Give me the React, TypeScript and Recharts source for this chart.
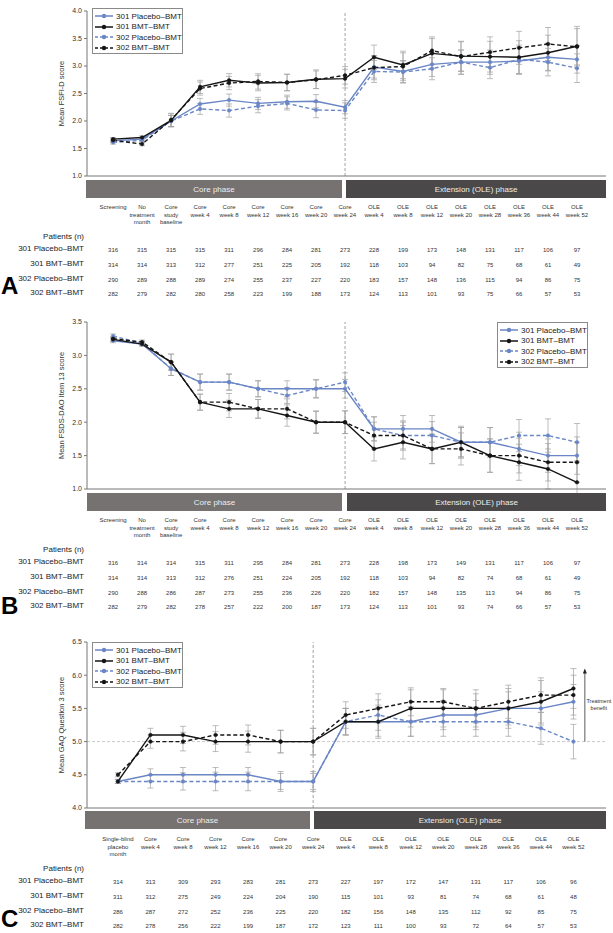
import React from 'react';
import { LineChart, Line, XAxis, YAxis, ErrorBar, ReferenceLine } from 'recharts';

const FONT = '"Liberation Sans", Arial, Helvetica, sans-serif';
const BLUE = '#6a86c6';
const BLACK = '#151515';
const AXIS = '#777';

const seriesNames = ['301 Placebo–BMT', '301 BMT–BMT', '302 Placebo–BMT', '302 BMT–BMT'];

// visit labels
const visitsAB = [
  'Screening', 'No\ntreatment\nmonth', 'Core\nstudy\nbaseline', 'Core\nweek 4', 'Core\nweek 8',
  'Core\nweek 12', 'Core\nweek 16', 'Core\nweek 20', 'Core\nweek 24', 'OLE\nweek 4', 'OLE\nweek 8',
  'OLE\nweek 12', 'OLE\nweek 20', 'OLE\nweek 28', 'OLE\nweek 36', 'OLE\nweek 44', 'OLE\nweek 52',
];
const visitsC = [
  'Single-blind\nplacebo\nmonth', 'Core\nweek 4', 'Core\nweek 8', 'Core\nweek 12', 'Core\nweek 16',
  'Core\nweek 20', 'Core\nweek 24', 'OLE\nweek 4', 'OLE\nweek 8', 'OLE\nweek 12', 'OLE\nweek 20',
  'OLE\nweek 28', 'OLE\nweek 36', 'OLE\nweek 44', 'OLE\nweek 52',
];

// A: FSFI-D means and error bars
const fsfiP301 = [1.64, 1.67, 2.0, 2.31, 2.38, 2.32, 2.35, 2.36, 2.25, 2.98, 2.9, 3.03, 3.07, 3.07, 3.09, 3.16, 3.12];
const fsfiB301 = [1.67, 1.7, 2.01, 2.62, 2.74, 2.69, 2.7, 2.76, 2.77, 3.16, 3.02, 3.23, 3.18, 3.17, 3.16, 3.24, 3.36];
const fsfiP302 = [1.61, 1.65, 2.0, 2.22, 2.19, 2.27, 2.32, 2.2, 2.19, 2.9, 2.89, 2.95, 3.07, 2.97, 3.12, 3.07, 2.96];
const fsfiB302 = [1.65, 1.58, 2.02, 2.59, 2.69, 2.72, 2.7, 2.75, 2.83, 2.97, 2.99, 3.28, 3.17, 3.25, 3.33, 3.4, 3.35];
const fsfiErrP301 = [0.03, 0.03, 0.1, 0.1, 0.11, 0.11, 0.12, 0.12, 0.12, 0.2, 0.2, 0.22, 0.22, 0.22, 0.24, 0.25, 0.25];
const fsfiErrB301 = [0.03, 0.03, 0.12, 0.12, 0.12, 0.14, 0.15, 0.17, 0.17, 0.22, 0.25, 0.27, 0.27, 0.28, 0.3, 0.32, 0.36];
const fsfiErrP302 = [0.03, 0.03, 0.1, 0.1, 0.12, 0.12, 0.12, 0.14, 0.14, 0.2, 0.2, 0.2, 0.22, 0.2, 0.26, 0.25, 0.26];
const fsfiErrB302 = [0.03, 0.03, 0.12, 0.12, 0.12, 0.14, 0.15, 0.16, 0.16, 0.22, 0.25, 0.25, 0.27, 0.28, 0.3, 0.3, 0.33];
const fsfiN = [
  [316, 315, 315, 315, 311, 296, 284, 281, 273, 228, 199, 173, 148, 131, 117, 106, 97],
  [314, 314, 313, 312, 277, 251, 225, 205, 192, 118, 103, 94, 82, 75, 68, 61, 49],
  [290, 289, 288, 289, 274, 255, 237, 227, 220, 183, 157, 148, 136, 115, 94, 86, 75],
  [282, 279, 282, 280, 258, 223, 199, 188, 173, 124, 113, 101, 93, 75, 66, 57, 53],
];

// B: FSDS-DAO item 13
const fsdsP301 = [3.22, 3.17, 2.8, 2.6, 2.6, 2.5, 2.5, 2.5, 2.5, 1.9, 1.9, 1.9, 1.7, 1.7, 1.6, 1.5, 1.5];
const fsdsB301 = [3.24, 3.17, 2.9, 2.3, 2.2, 2.2, 2.1, 2.0, 2.0, 1.6, 1.7, 1.6, 1.7, 1.5, 1.4, 1.3, 1.1];
const fsdsP302 = [3.29, 3.18, 2.8, 2.6, 2.6, 2.5, 2.4, 2.5, 2.6, 1.9, 1.8, 1.8, 1.7, 1.7, 1.8, 1.8, 1.7];
const fsdsB302 = [3.25, 3.2, 2.9, 2.3, 2.3, 2.2, 2.2, 2.0, 2.0, 1.8, 1.8, 1.6, 1.6, 1.5, 1.5, 1.4, 1.4];
const fsdsErrP301 = [0.03, 0.03, 0.1, 0.12, 0.12, 0.12, 0.12, 0.14, 0.14, 0.18, 0.2, 0.2, 0.22, 0.22, 0.25, 0.25, 0.28];
const fsdsErrB301 = [0.03, 0.03, 0.12, 0.12, 0.13, 0.14, 0.16, 0.17, 0.17, 0.18, 0.25, 0.22, 0.24, 0.25, 0.27, 0.3, 0.3];
const fsdsErrP302 = [0.03, 0.03, 0.1, 0.12, 0.12, 0.12, 0.12, 0.13, 0.14, 0.18, 0.2, 0.21, 0.22, 0.22, 0.24, 0.25, 0.28];
const fsdsErrB302 = [0.03, 0.03, 0.12, 0.12, 0.13, 0.14, 0.15, 0.16, 0.17, 0.2, 0.22, 0.22, 0.24, 0.25, 0.26, 0.28, 0.3];
const fsdsN = [
  [316, 314, 314, 315, 311, 295, 284, 281, 273, 228, 198, 173, 149, 131, 117, 106, 97],
  [314, 314, 313, 312, 276, 251, 224, 205, 192, 118, 103, 94, 82, 74, 68, 61, 49],
  [290, 288, 286, 287, 273, 255, 236, 226, 220, 182, 157, 148, 135, 113, 94, 86, 75],
  [282, 279, 282, 278, 257, 222, 200, 187, 173, 124, 113, 101, 93, 74, 66, 57, 53],
];

// C: GAQ question 3
const gaqP301 = [4.4, 4.5, 4.5, 4.5, 4.5, 4.4, 4.4, 5.3, 5.3, 5.3, 5.4, 5.4, 5.5, 5.5, 5.6];
const gaqB301 = [4.4, 5.1, 5.1, 5.0, 5.0, 5.0, 5.0, 5.3, 5.3, 5.5, 5.5, 5.5, 5.5, 5.6, 5.8];
const gaqP302 = [4.4, 4.4, 4.4, 4.4, 4.4, 4.4, 4.4, 5.3, 5.4, 5.3, 5.3, 5.3, 5.3, 5.2, 5.0];
const gaqB302 = [4.5, 5.0, 5.0, 5.1, 5.1, 5.0, 5.0, 5.4, 5.5, 5.6, 5.6, 5.5, 5.6, 5.7, 5.7];
const gaqErrP301 = [0.03, 0.09, 0.11, 0.11, 0.11, 0.12, 0.12, 0.2, 0.22, 0.22, 0.22, 0.22, 0.25, 0.25, 0.26];
const gaqErrB301 = [0.03, 0.1, 0.13, 0.15, 0.16, 0.17, 0.2, 0.2, 0.25, 0.28, 0.28, 0.28, 0.3, 0.32, 0.3];
const gaqErrP302 = [0.03, 0.1, 0.13, 0.14, 0.14, 0.15, 0.15, 0.2, 0.23, 0.22, 0.22, 0.22, 0.22, 0.24, 0.26];
const gaqErrB302 = [0.03, 0.1, 0.14, 0.14, 0.15, 0.17, 0.2, 0.2, 0.22, 0.21, 0.2, 0.22, 0.25, 0.26, 0.3];
const gaqN = [
  [314, 313, 309, 293, 283, 281, 273, 227, 197, 172, 147, 131, 117, 106, 96],
  [311, 312, 275, 249, 224, 204, 190, 115, 101, 93, 81, 74, 68, 61, 48],
  [286, 287, 272, 252, 236, 225, 220, 182, 156, 148, 135, 112, 92, 85, 75],
  [282, 278, 256, 222, 199, 187, 172, 123, 111, 100, 93, 72, 64, 57, 53],
];

const keys = ['p301', 'b301', 'p302', 'b302'];
const styles = [
  { color: BLUE, dash: undefined },
  { color: BLACK, dash: undefined },
  { color: BLUE, dash: '4 2.5' },
  { color: BLACK, dash: '4 2.5' },
];
const drawOrder = [2, 0, 3, 1];

function buildRows(means: number[][], errs: number[][]) {
  return means[0].map((_, i) => {
    const row: any = { i };
    keys.forEach((k, s) => {
      row[k] = means[s][i];
      row['e_' + k] = errs[s][i];
    });
    return row;
  });
}

const TableTick = (props: any) => {
  const { x, y, payload, labels, counts } = props;
  const i = Math.round(payload.value);
  const lines = labels[i].split('\n');
  return (
    <g fontFamily={FONT}>
      {lines.map((l: string, k: number) => (
        <text key={k} x={x} y={y + 33 + k * 7.5} textAnchor="middle" fontSize={6} fill="#333">{l}</text>
      ))}
      {counts.map((row: number[], r: number) => (
        <text key={'n' + r} x={x} y={y + 76 + r * 14.8} textAnchor="middle" fontSize={6} fill="#333">{row[i]}</text>
      ))}
    </g>
  );
};

function Legend({ left, top }: { left: number; top: number }) {
  return (
    <div style={{ position: 'absolute', left, top, width: 91, height: 46, border: '1px solid #8a8a8a', background: '#fff', boxSizing: 'border-box', padding: '2px 0 0 2px' }}>
      {seriesNames.map((n, s) => (
        <div key={n} style={{ display: 'flex', alignItems: 'center', height: 10.5, fontSize: 8, color: '#222', whiteSpace: 'nowrap' }}>
          <svg width={18} height={8} style={{ marginRight: 3 }}>
            <line x1={0} y1={4} x2={18} y2={4} stroke={styles[s].color} strokeWidth={1.5} strokeDasharray={styles[s].dash ? '3 2' : undefined} />
            <circle cx={9} cy={4} r={2.2} fill={styles[s].color} />
          </svg>
          {n}
        </div>
      ))}
    </div>
  );
}

function PhaseBars({ y, core, ext }: { y: number; core: number[]; ext: number[] }) {
  const bar = (l: number, r: number, bg: string, label: string) => (
    <div style={{ position: 'absolute', left: l, top: y, width: r - l, height: 18, background: bg, color: '#eee', fontSize: 8, display: 'flex', alignItems: 'center', justifyContent: 'center' }}>{label}</div>
  );
  return (
    <>
      {bar(core[0], core[1], '#767272', 'Core phase')}
      {bar(ext[0], ext[1], '#4a4848', 'Extension (OLE) phase')}
    </>
  );
}

function RowLabels({ y }: { y: number }) {
  const lab = (t: string, yy: number, k: string) => (
    <div key={k} style={{ position: 'absolute', right: 613 - 84, top: yy - 6, fontSize: 8, color: '#222', whiteSpace: 'nowrap' }}>{t}</div>
  );
  return (
    <>
      {lab('Patients (n)', y + 62, 'pt')}
      {seriesNames.map((n, r) => lab(n, y + 74 + r * 14.8, n))}
    </>
  );
}

const ArrowShape = (props: any) => {
  const { x1, y1, x2, y2 } = props;
  return (
    <g>
      <line x1={x1} y1={y1} x2={x2} y2={y2 + 4} stroke="#333" strokeWidth={0.8} />
      <polygon points={`${x2},${y2} ${x2 - 2},${y2 + 5} ${x2 + 2},${y2 + 5}`} fill="#222" />
      <text x={x1 + 14} y={(y1 + y2) / 2 - 2} textAnchor="middle" fontSize={5.5} fill="#333" fontFamily={FONT}>Treatment</text>
      <text x={x1 + 14} y={(y1 + y2) / 2 + 5} textAnchor="middle" fontSize={5.5} fill="#333" fontFamily={FONT}>benefit</text>
    </g>
  );
};

type PanelProps = {
  top: number; height: number; plotTop: number; plotBottom: number;
  rows: any[]; labels: string[]; counts: number[][];
  xDomain: number[]; yDomain: number[]; yTicks: number[]; yLabel: string;
  divider: number; children?: React.ReactNode;
};

function Panel({ top, height, plotTop, plotBottom, rows, labels, counts, xDomain, yDomain, yTicks, yLabel, divider, children }: PanelProps) {
  return (
    <div style={{ position: 'absolute', left: 0, top }}>
      <LineChart width={613} height={height} data={rows} margin={{ top: plotTop - top, right: 7, bottom: 0, left: 0 }}>
        <XAxis
          dataKey="i" type="number" domain={xDomain} allowDataOverflow
          ticks={labels.map((_, i) => i)} interval={0}
          height={top + height - plotBottom} tickSize={0} tickMargin={0}
          axisLine={{ stroke: AXIS }} tickLine={false}
          tick={(p: any) => <TableTick {...p} labels={labels} counts={counts} />}
        />
        <YAxis
          width={87} domain={yDomain} ticks={yTicks} allowDataOverflow
          tickFormatter={(v: number) => v.toFixed(1)}
          tick={{ fontSize: 7, fill: '#333', fontFamily: FONT }}
          tickSize={3} tickMargin={2}
          axisLine={{ stroke: AXIS }} tickLine={{ stroke: AXIS }}
          label={{ value: yLabel, angle: -90, position: 'insideLeft', offset: 61, style: { textAnchor: 'middle', fontSize: 7.5, fill: '#333', fontFamily: FONT } }}
        />
        <ReferenceLine x={divider} stroke="#8a8a8a" strokeWidth={0.8} strokeDasharray="3 2" />
        {children}
        {drawOrder.map((s) => (
          <Line
            key={keys[s]} dataKey={keys[s]} stroke={styles[s].color} strokeWidth={1.4}
            strokeDasharray={styles[s].dash} isAnimationActive={false}
            dot={{ r: 1.8, fill: styles[s].color, stroke: styles[s].color, strokeWidth: 0.5, strokeDasharray: '' }}
          >
            <ErrorBar dataKey={'e_' + keys[s]} width={3} stroke="#a0a0a0" strokeWidth={0.7} />
          </Line>
        ))}
      </LineChart>
    </div>
  );
}

const Letter = ({ t, top }: { t: string; top: number }) => (
  <div style={{ position: 'absolute', left: 1, top, fontSize: 24, fontWeight: 'bold', color: '#000', lineHeight: '24px' }}>{t}</div>
);

export default function App() {
  const rowsA = buildRows([fsfiP301, fsfiB301, fsfiP302, fsfiB302], [fsfiErrP301, fsfiErrB301, fsfiErrP302, fsfiErrB302]);
  const rowsB = buildRows([fsdsP301, fsdsB301, fsdsP302, fsdsB302], [fsdsErrP301, fsdsErrB301, fsdsErrP302, fsdsErrB302]);
  const rowsC = buildRows([gaqP301, gaqB301, gaqP302, gaqB302], [gaqErrP301, gaqErrB301, gaqErrP302, gaqErrB302]);

  return (
    <div style={{ position: 'absolute', left: 0, top: 0, width: 613, height: 933, background: '#fff', fontFamily: FONT, overflow: 'hidden' }}>
      <Panel top={0} height={300} plotTop={11} plotBottom={176} rows={rowsA} labels={visitsAB} counts={fsfiN}
        xDomain={[-0.9, 17]} yDomain={[1, 4]} yTicks={[1, 1.5, 2, 2.5, 3, 3.5, 4]} yLabel="Mean FSFI-D score" divider={8} />
      <Legend left={92} top={8} />
      <PhaseBars y={180} core={[86, 342]} ext={[346, 606]} />
      <RowLabels y={176} />
      <Letter t="A" top={274} />

      <Panel top={305} height={310} plotTop={322} plotBottom={489} rows={rowsB} labels={visitsAB} counts={fsdsN}
        xDomain={[-0.9, 17]} yDomain={[1, 3.5]} yTicks={[1, 1.5, 2, 2.5, 3, 3.5]} yLabel="Mean FSDS-DAO Item 13 score" divider={8} />
      <Legend left={497} top={322} />
      <PhaseBars y={493} core={[87, 342]} ext={[347, 606]} />
      <RowLabels y={489} />
      <Letter t="B" top={594} />

      <Panel top={625} height={308} plotTop={642} plotBottom={808} rows={rowsC} labels={visitsC} counts={gaqN}
        xDomain={[-0.95, 15]} yDomain={[4, 6.5]} yTicks={[4, 4.5, 5, 5.5, 6, 6.5]} yLabel="Mean GAQ Question 3 score" divider={6}>
        <ReferenceLine y={5} stroke="#bdbdbd" strokeWidth={0.8} strokeDasharray="3 2" />
        <ReferenceLine segment={[{ x: 14.35, y: 5 }, { x: 14.35, y: 6.1 }]} shape={ArrowShape} ifOverflow="visible" />
      </Panel>
      <Legend left={92} top={642} />
      <PhaseBars y={811} core={[85, 310]} ext={[314, 606]} />
      <RowLabels y={808} />
      <Letter t="C" top={907} />
    </div>
  );
}
